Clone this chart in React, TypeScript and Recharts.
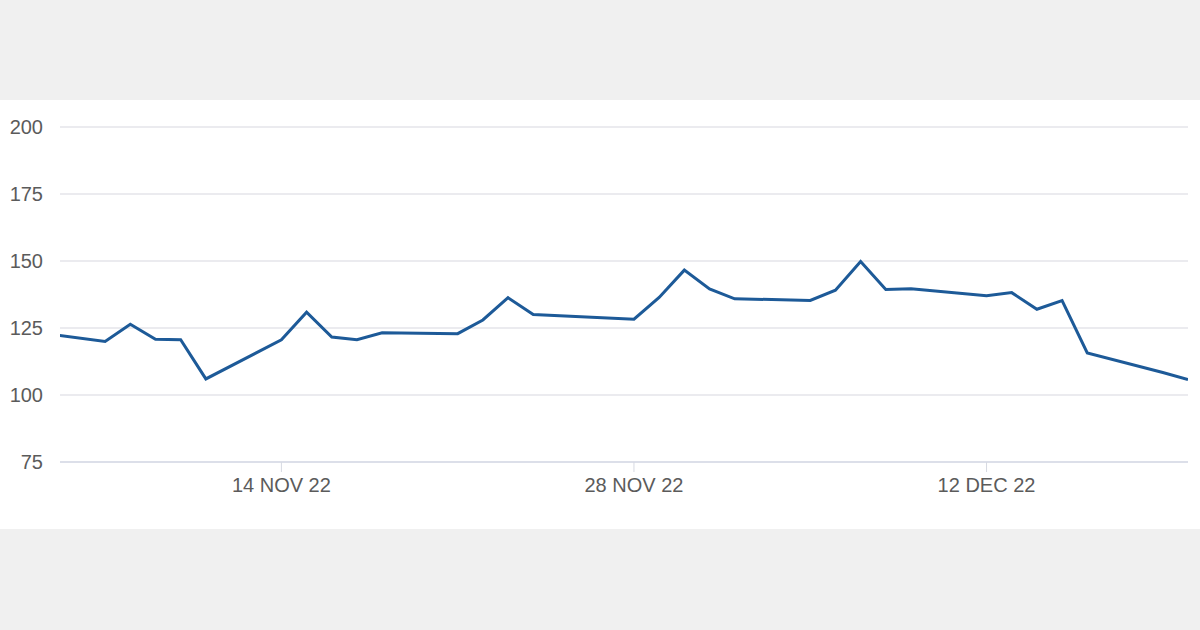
import { LineChart, Line, XAxis, YAxis, CartesianGrid } from "recharts"

// trading days shown in the chart
const dates = [
  "2022-11-04", "2022-11-07", "2022-11-08", "2022-11-09", "2022-11-10", "2022-11-11",
  "2022-11-14", "2022-11-15", "2022-11-16", "2022-11-17", "2022-11-18",
  "2022-11-21", "2022-11-22", "2022-11-23", "2022-11-24",
  "2022-11-28", "2022-11-29", "2022-11-30", "2022-12-01", "2022-12-02",
  "2022-12-05", "2022-12-06", "2022-12-07", "2022-12-08", "2022-12-09",
  "2022-12-12", "2022-12-13", "2022-12-14", "2022-12-15", "2022-12-16",
  "2022-12-19", "2022-12-20",
]

const values = [
  123.7, 120.0, 126.4, 120.8, 120.6, 106.0,
  120.6, 130.9, 121.6, 120.6, 123.2,
  122.9, 128.0, 136.3, 130.0,
  128.3, 136.4, 146.6, 139.6, 135.9,
  135.3, 139.1, 149.8, 139.4, 139.6,
  137.0, 138.2, 132.0, 135.2, 115.7,
  108.4, 105.8,
]

const xTickDates = ["2022-11-14", "2022-11-28", "2022-12-12"]
const yTicks = [75, 100, 125, 150, 175, 200]
const monthNames = ["JAN", "FEB", "MAR", "APR", "MAY", "JUN", "JUL", "AUG", "SEP", "OCT", "NOV", "DEC"]

const toTime = (s: string) => {
  const [y, m, d] = s.split("-").map(Number)
  return Date.UTC(y, m - 1, d)
}

const data = dates.map((d, i) => ({ t: toTime(d), value: values[i] }))

// visible window: ~45 days ending on the last point
const domainStart = Date.UTC(2022, 10, 5, 5)
const domainEnd = toTime("2022-12-20")

const formatTick = (t: number) => {
  const d = new Date(t)
  const day = d.getUTCDate()
  const yy = String(d.getUTCFullYear()).slice(2)
  return `${day} ${monthNames[d.getUTCMonth()]} ${yy}`
}

const tickStyle = { fill: "#5b5b5b", fontSize: 20, fontFamily: "'Liberation Sans', Arial, sans-serif" }

export default function App() {
  return (
    <div style={{ position: "absolute", top: 0, left: 0, width: 1200, height: 630, background: "#f0f0f0" }}>
      <div style={{ position: "absolute", top: 100, left: 0, width: 1200, height: 429, background: "#ffffff" }}>
        <LineChart width={1200} height={429} data={data} margin={{ top: 27, right: 12, bottom: 0, left: 0 }}>
          <CartesianGrid vertical={false} stroke="#ebebef" strokeWidth={2} />
          <XAxis
            dataKey="t"
            type="number"
            scale="time"
            domain={[domainStart, domainEnd]}
            allowDataOverflow
            ticks={xTickDates.map(toTime)}
            tickFormatter={formatTick}
            tick={tickStyle}
            axisLine={{ stroke: "#dcdfe9", strokeWidth: 2 }}
            tickLine={{ stroke: "#d6d9e2" }}
            tickSize={10}
            tickMargin={6}
            height={67}
          />
          <YAxis
            type="number"
            domain={[75, 200]}
            ticks={yTicks}
            tick={tickStyle}
            axisLine={false}
            tickLine={false}
            tickSize={6}
            tickMargin={11}
            width={60}
          />
          <Line
            type="linear"
            dataKey="value"
            stroke="#1d5a98"
            strokeWidth={3}
            dot={false}
            isAnimationActive={false}
          />
        </LineChart>
      </div>
    </div>
  )
}
